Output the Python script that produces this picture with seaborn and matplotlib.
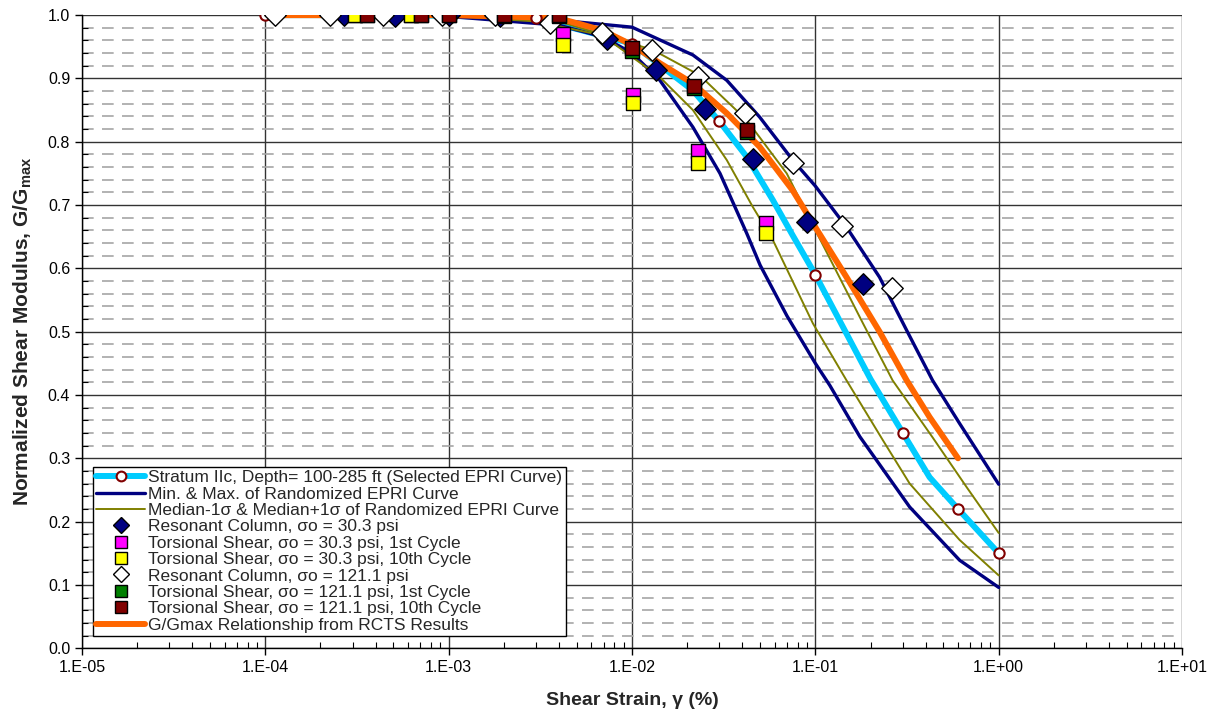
import matplotlib
matplotlib.use("Agg")
import matplotlib.pyplot as plt
import matplotlib.ticker as mticker
from matplotlib.lines import Line2D
import seaborn as sns
import numpy as np

sns.set_style("white")
plt.rcParams['font.family'] = ['Liberation Sans', 'DejaVu Sans']

# Selected EPRI curve, Stratum IIc
epri_x = [1e-4, 3e-4, 1e-3, 3e-3, 1e-2, 0.0215, 0.0302, 0.0423, 0.0586, 0.0753, 0.1, 0.2, 0.3, 0.42, 0.6, 1.0]
epri_y = [1.0, 1.0, 0.999, 0.995, 0.955, 0.881, 0.831, 0.776, 0.708, 0.652, 0.59, 0.425, 0.34, 0.27, 0.22, 0.15]
epri_mark_x = [1e-4, 3e-4, 1e-3, 3e-3, 1e-2, 0.03, 0.1, 0.3, 0.6, 1.0]
epri_mark_y = [1.0, 1.0, 0.999, 0.995, 0.955, 0.833, 0.59, 0.34, 0.22, 0.15]

# randomized EPRI: min & max
max_x = [1e-4, 1e-3, 4e-3, 1e-2, 0.0215, 0.0329, 0.0497, 0.0753, 0.1, 0.148, 0.224, 0.315, 0.436, 0.612, 1.0]
max_y = [1.0, 0.999, 0.992, 0.981, 0.937, 0.897, 0.839, 0.771, 0.73, 0.665, 0.586, 0.502, 0.423, 0.355, 0.259]
min_x = [1e-4, 1e-3, 4e-3, 6.9e-3, 1e-2, 0.0142, 0.0215, 0.0302, 0.0423, 0.05, 0.07, 0.1, 0.12, 0.175, 0.327, 0.612, 1.0]
min_y = [1.0, 0.998, 0.984, 0.966, 0.94, 0.897, 0.823, 0.75, 0.655, 0.605, 0.525, 0.45, 0.415, 0.334, 0.223, 0.139, 0.096]

# randomized EPRI: median-1s & median+1s
p1s_x = [1e-4, 1e-3, 4e-3, 0.013, 0.0234, 0.0423, 0.0698, 0.097, 0.182, 0.264, 0.436, 0.67, 1.0]
p1s_y = [1.0, 0.999, 0.99, 0.945, 0.905, 0.834, 0.75, 0.668, 0.513, 0.423, 0.333, 0.254, 0.182]
m1s_x = [1e-4, 1e-3, 3e-3, 6.9e-3, 0.0142, 0.0215, 0.0329, 0.0456, 0.0586, 0.097, 0.148, 0.233, 0.327, 0.612, 1.0]
m1s_y = [1.0, 0.999, 0.99, 0.968, 0.902, 0.85, 0.771, 0.697, 0.645, 0.513, 0.423, 0.329, 0.26, 0.171, 0.115]

# RCTS fitted relationship
rcts_x = [1e-4, 1e-3, 2e-3, 4e-3, 6.9e-3, 1e-2, 0.0142, 0.0215, 0.0329, 0.0497, 0.0753, 0.1, 0.148, 0.224, 0.315, 0.42, 0.6]
rcts_y = [1.0, 1.0, 0.998, 0.995, 0.976, 0.953, 0.924, 0.892, 0.845, 0.792, 0.723, 0.665, 0.586, 0.50, 0.423, 0.365, 0.30]

# test data
rc30_x = [2.7e-4, 5.1e-4, 1.0e-3, 1.9e-3, 0.0073, 0.0135, 0.0249, 0.0456, 0.0897, 0.182]
rc30_y = [1.0, 0.998, 1.0, 0.999, 0.962, 0.913, 0.851, 0.772, 0.673, 0.575]
ts30_1_x = [3.1e-4, 6.2e-4, 4.2e-3, 0.0101, 0.0229, 0.0537]
ts30_1_y = [1.0, 1.0, 0.970, 0.874, 0.785, 0.672]
ts30_10_x = [3.1e-4, 6.2e-4, 4.2e-3, 0.0101, 0.0229, 0.0537]
ts30_10_y = [1.0, 1.0, 0.953, 0.861, 0.766, 0.656]
rc121_x = [1.13e-4, 2.25e-4, 4.4e-4, 9.2e-4, 1.8e-3, 3.56e-3, 6.9e-3, 0.0128, 0.0229, 0.0412, 0.0753, 0.139, 0.261]
rc121_y = [1.0, 1.0, 1.0, 1.0, 1.0, 0.988, 0.972, 0.945, 0.902, 0.845, 0.766, 0.667, 0.569]
ts121_1_x = [3.6e-4, 7.1e-4, 1.0e-3, 2.0e-3, 4.0e-3, 0.0100, 0.0217, 0.0423]
ts121_1_y = [1.0, 1.0, 1.0, 0.999, 0.998, 0.944, 0.885, 0.815]
ts121_10_x = [3.6e-4, 7.1e-4, 1.0e-3, 2.0e-3, 4.0e-3, 0.0100, 0.0217, 0.0423]
ts121_10_y = [1.0, 1.0, 1.0, 1.0, 1.0, 0.948, 0.888, 0.818]

x_ticks = [1e-5, 1e-4, 1e-3, 1e-2, 1e-1, 1e0, 1e1]
x_ticklabels = ["1.E-05", "1.E-04", "1.E-03", "1.E-02", "1.E-01", "1.E+00", "1.E+01"]

labels = ["Stratum IIc, Depth= 100-285 ft (Selected EPRI Curve)",
          "Min. & Max. of Randomized EPRI Curve",
          "Median-1σ & Median+1σ of Randomized EPRI Curve",
          "Resonant Column, σo = 30.3 psi",
          "Torsional Shear, σo = 30.3 psi, 1st Cycle",
          "Torsional Shear, σo = 30.3 psi, 10th Cycle",
          "Resonant Column, σo = 121.1 psi",
          "Torsional Shear, σo = 121.1 psi, 1st Cycle",
          "Torsional Shear, σo = 121.1 psi, 10th Cycle",
          "G/Gmax Relationship from RCTS Results"]

cyan = '#00CCFF'
navy = '#000080'
olive = '#808000'
orange = '#FF6600'
maroon = '#800000'

fig = plt.figure(figsize=(12.23, 7.21), dpi=100)
ax = fig.add_axes([0.067, 0.101, 0.8995, 0.878])
ax.set_xscale('log')

# lines
sns.lineplot(x=epri_x, y=epri_y, ax=ax, color=cyan, lw=4.3, sort=False, zorder=3)
for xs, ys in [(max_x, max_y), (min_x, min_y)]:
    sns.lineplot(x=xs, y=ys, ax=ax, color=navy, lw=2.4, sort=False, zorder=3.1)
for xs, ys in [(p1s_x, p1s_y), (m1s_x, m1s_y)]:
    sns.lineplot(x=xs, y=ys, ax=ax, color=olive, lw=1.4, sort=False, zorder=3.2)
sns.lineplot(x=rcts_x, y=rcts_y, ax=ax, color=orange, lw=4.3, sort=False, zorder=3.3)

# markers
sns.scatterplot(x=epri_mark_x, y=epri_mark_y, ax=ax, marker='o', s=55, color='white',
                edgecolor=maroon, linewidth=1.5, zorder=4)
sns.scatterplot(x=rc30_x, y=rc30_y, ax=ax, marker='D', s=120, color=navy,
                edgecolor='black', linewidth=1.0, zorder=5)
sns.scatterplot(x=ts30_1_x, y=ts30_1_y, ax=ax, marker='s', s=110, color='#FF00FF',
                edgecolor='black', linewidth=1.0, zorder=5.1)
sns.scatterplot(x=ts30_10_x, y=ts30_10_y, ax=ax, marker='s', s=110, color='#FFFF00',
                edgecolor='black', linewidth=1.0, zorder=5.2)
sns.scatterplot(x=rc121_x, y=rc121_y, ax=ax, marker='D', s=120, color='white',
                edgecolor='black', linewidth=1.0, zorder=5.3)
sns.scatterplot(x=ts121_1_x, y=ts121_1_y, ax=ax, marker='s', s=110, color='#008000',
                edgecolor='black', linewidth=1.0, zorder=5.4)
sns.scatterplot(x=ts121_10_x, y=ts121_10_y, ax=ax, marker='s', s=110, color=maroon,
                edgecolor='black', linewidth=1.0, zorder=5.5)

ax.set_xlim(1e-5, 1e1)
ax.set_ylim(0, 1.0)

# ticks and grid
ax.set_xticks(x_ticks)
ax.set_xticklabels(x_ticklabels)
minor_x = [m * 10.0 ** e for e in range(-5, 1) for m in range(2, 10)]
ax.xaxis.set_minor_locator(mticker.FixedLocator(minor_x))
ax.xaxis.set_minor_formatter(mticker.NullFormatter())
ax.yaxis.set_major_locator(mticker.MultipleLocator(0.1))
ax.yaxis.set_minor_locator(mticker.MultipleLocator(0.02))
ax.yaxis.set_major_formatter(mticker.FormatStrFormatter('%.1f'))
ax.yaxis.set_minor_formatter(mticker.NullFormatter())
ax.grid(True, which='major', axis='both', color='#333333', lw=1.0, zorder=0)
ax.grid(True, which='minor', axis='y', color='#A6A6A6', lw=1.2, ls=(0, (7, 5)), zorder=0)
ax.grid(False, which='minor', axis='x')
ax.set_axisbelow(True)

for s in ['top', 'right']:
    ax.spines[s].set_visible(False)
for s in ['left', 'bottom']:
    ax.spines[s].set_color('black')
    ax.spines[s].set_linewidth(1.0)
ax.tick_params(axis='both', which='major', direction='out', length=5, width=1, colors='black',
               labelsize=11.5, left=True, bottom=True)
ax.tick_params(axis='both', which='minor', direction='in', length=4, width=0.8, colors='black',
               left=True, bottom=True)

ax.set_xlabel("Shear Strain, γ (%)", fontsize=14, fontweight='bold', labelpad=12)
ax.set_ylabel(r"Normalized Shear Modulus, G/G$_{\mathregular{max}}$", fontsize=15,
              fontweight='bold', labelpad=10)

handles = [
    Line2D([], [], color=cyan, lw=4.3, marker='o', ms=7, mfc='white', mec=maroon, mew=1.5),
    Line2D([], [], color=navy, lw=2.4),
    Line2D([], [], color=olive, lw=1.4),
    Line2D([], [], ls='none', marker='D', ms=8, mfc=navy, mec='black'),
    Line2D([], [], ls='none', marker='s', ms=9, mfc='#FF00FF', mec='black'),
    Line2D([], [], ls='none', marker='s', ms=9, mfc='#FFFF00', mec='black'),
    Line2D([], [], ls='none', marker='D', ms=8, mfc='white', mec='black'),
    Line2D([], [], ls='none', marker='s', ms=9, mfc='#008000', mec='black'),
    Line2D([], [], ls='none', marker='s', ms=9, mfc=maroon, mec='black'),
    Line2D([], [], color=orange, lw=4.3),
]
leg = ax.legend(handles, labels, loc='lower left', bbox_to_anchor=(0.01, 0.019),
                borderaxespad=0, fontsize=12.5, frameon=True, fancybox=False,
                edgecolor='black', framealpha=1, labelspacing=0.07, handlelength=2.8,
                handletextpad=0.2, borderpad=0.2)
leg.get_frame().set_linewidth(1.0)
leg.set_zorder(10)

fig.savefig("out.png", dpi=100)
